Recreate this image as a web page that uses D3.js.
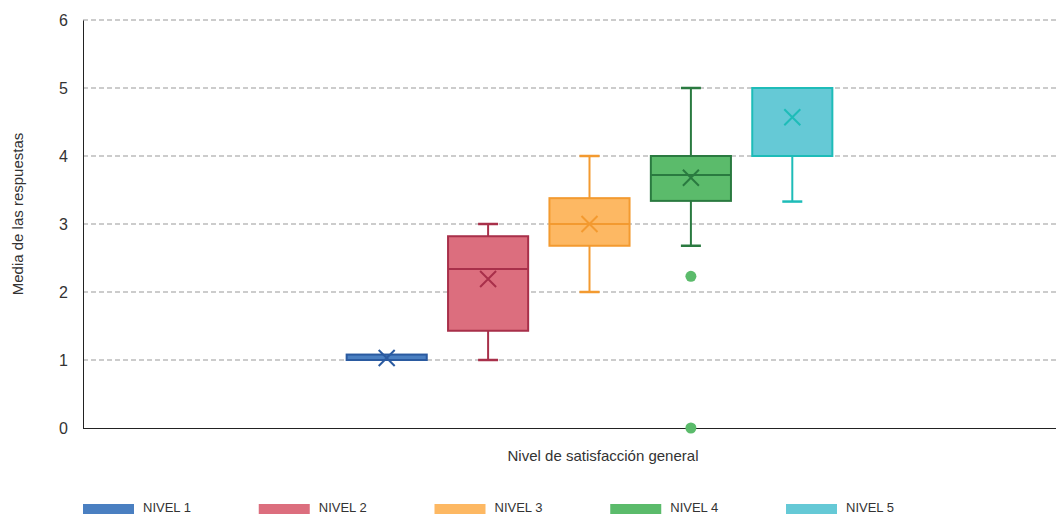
<!DOCTYPE html>
<html><head><meta charset="utf-8">
<script src="https://cdn.jsdelivr.net/npm/d3@7"></script>
<style>body{margin:0;background:#fff}svg{display:block}text{font-family:"Liberation Sans",Arial,sans-serif;fill:#333}</style>
</head><body><svg id="c" width="1057" height="515"></svg>
<script>
const series = ["NIVEL 1","NIVEL 2","NIVEL 3","NIVEL 4","NIVEL 5"];
const q1 =     [1.00, 1.43, 2.68, 3.34, 4.00];
const median = [1.00, 2.34, 3.00, 3.72, 5.00];
const q3 =     [1.08, 2.82, 3.38, 4.00, 5.00];
const whiskLo =[1.00, 1.00, 2.00, 2.68, 3.33];
const whiskHi =[1.08, 3.00, 4.00, 5.00, 5.00];
const means =  [1.03, 2.19, 3.00, 3.68, 4.57];
const outliers = [[],[],[],[2.23, 0],[]];
const fills =   ["#4a7fc1","#dc6e7e","#fdb863","#5bbb6b","#65c9d6"];
const strokes = ["#2a5aa0","#a8304a","#f39a30","#2a7a40","#1ebcb8"];
const yTicks = [0,1,2,3,4,5,6];
const yTitle = "Media de las respuestas";
const xTitle = "Nivel de satisfacción general";

const svg = d3.select("#c");
const mLeft = 83, mRight = 1056, mTop = 20, mBottom = 428;
const y = d3.scaleLinear().domain([0,6]).range([mBottom, mTop]);
const x = d3.scaleBand().domain(series).range([336, 843]).paddingInner(0.21).paddingOuter(0.105);

// grid
svg.append("g").selectAll("line").data(yTicks.filter(d=>d>0)).join("line")
  .attr("x1", mLeft).attr("x2", mRight).attr("y1", d=>y(d)).attr("y2", d=>y(d))
  .attr("stroke", "#999").attr("stroke-dasharray","5,3").attr("stroke-width",1);

// y axis
const ya = svg.append("g").attr("transform", `translate(${mLeft},0)`)
  .call(d3.axisLeft(y).tickValues(yTicks).tickSize(0).tickPadding(15).tickFormat(d3.format("d")));
ya.select(".domain").attr("stroke","#222");
ya.selectAll("text").style("font-size","16px").attr("fill","#333");
// x axis line
svg.append("line").attr("x1",mLeft).attr("x2",mRight).attr("y1",mBottom+0.5).attr("y2",mBottom+0.5).attr("stroke","#222");

svg.append("text").attr("transform",`translate(23,214) rotate(-90)`)
  .attr("text-anchor","middle").style("font-size","15px").text(yTitle);
svg.append("text").attr("x",603).attr("y",461).attr("text-anchor","middle").style("font-size","15px").text(xTitle);

const bw = x.bandwidth();
series.forEach((s,i)=>{
  const g = svg.append("g");
  const cx = x(s) + bw/2;
  const st = strokes[i];
  if (whiskHi[i] > q3[i]) {
    g.append("line").attr("x1",cx).attr("x2",cx).attr("y1",y(q3[i])).attr("y2",y(whiskHi[i])).attr("stroke",st).attr("stroke-width",2);
    g.append("line").attr("x1",cx-10).attr("x2",cx+10).attr("y1",y(whiskHi[i])).attr("y2",y(whiskHi[i])).attr("stroke",st).attr("stroke-width",2.5);
  }
  if (whiskLo[i] < q1[i]) {
    g.append("line").attr("x1",cx).attr("x2",cx).attr("y1",y(q1[i])).attr("y2",y(whiskLo[i])).attr("stroke",st).attr("stroke-width",2);
    g.append("line").attr("x1",cx-10).attr("x2",cx+10).attr("y1",y(whiskLo[i])).attr("y2",y(whiskLo[i])).attr("stroke",st).attr("stroke-width",2.5);
  }
  g.append("rect").attr("x",x(s)).attr("width",bw).attr("y",y(q3[i])).attr("height",Math.max(1,y(q1[i])-y(q3[i])))
    .attr("fill",fills[i]).attr("stroke",st).attr("stroke-width",2);
  g.append("line").attr("x1",x(s)).attr("x2",x(s)+bw).attr("y1",y(median[i])).attr("y2",y(median[i])).attr("stroke",st).attr("stroke-width",2);
  const m = y(means[i]), r = 8;
  g.append("path").attr("d",`M${cx-r},${m-r}L${cx+r},${m+r}M${cx-r},${m+r}L${cx+r},${m-r}`).attr("stroke",st).attr("stroke-width",2).attr("fill","none");
  outliers[i].forEach(o=>{
    g.append("circle").attr("cx",cx).attr("cy",y(o)).attr("r",5.5).attr("fill",fills[i]);
  });
});

// legend
const lx = d3.scaleLinear().domain([0,4]).range([83,786]);
const lg = svg.append("g");
series.forEach((s,i)=>{
  lg.append("rect").attr("x",lx(i)).attr("y",504).attr("width",51).attr("height",10).attr("fill",fills[i]);
  lg.append("text").attr("x",lx(i)+60).attr("y",512).style("font-size","13px").attr("fill","#444").text(s);
});
</script></body></html>
